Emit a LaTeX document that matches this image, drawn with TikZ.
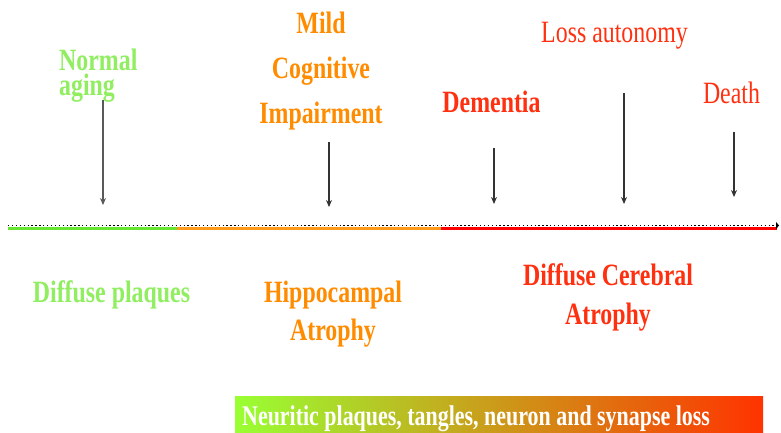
\documentclass[tikz,border=0pt]{standalone}
\usepackage{fontspec}
\setmainfont{Liberation Serif}[FakeStretch=0.77]
\usetikzlibrary{arrows.meta}
\definecolor{tgreen}{HTML}{90EE60}
\definecolor{torange}{HTML}{FF8C00}
\definecolor{tred}{HTML}{FF3010}
\definecolor{lgreen}{HTML}{66E633}
\definecolor{lorange}{HTML}{FF9A1A}
\definecolor{lred}{HTML}{FF0000}
\definecolor{bgreen}{HTML}{99FF33}
\definecolor{bmid}{HTML}{E0AA20}
\definecolor{bred}{HTML}{FF3300}
\definecolor{arrowgray}{HTML}{333333}
\begin{document}
\begin{tikzpicture}[x=1pt,y=-1pt,
  lbl/.style={inner sep=0pt, align=center, anchor=base},
  bigbold/.style={font=\bfseries\fontsize{31}{45}\selectfont},
  bigreg/.style={font=\fontsize{31}{45}\selectfont},
  ptr/.style={draw=arrowgray, line width=1.1pt, -{Stealth[length=7pt,width=6pt]}},
  seg/.style={line width=3pt}]
\useasboundingbox (0,0) rectangle (781,432);

% timeline
\coordinate (t0) at (8,228);
\coordinate (t1) at (177,228);
\coordinate (t2) at (441,228);
\coordinate (t3) at (777,228);
\coordinate (d0) at (8,225.5);
\coordinate (d1) at (779,225.5);
\draw[seg, lgreen] (t0) -- (t1);
\draw[seg, lorange] (t1) -- (t2);
\draw[seg, lred] (t2) -- (t3);
\draw[black, line width=1.6pt, dash pattern=on 1.3pt off 2.6pt, -{Triangle[length=3pt,width=7pt]}] (d0) -- (d1);

% top labels (base anchor = baseline of last line)
\node[lbl, tgreen, align=left, anchor=base west, font=\bfseries\fontsize{31}{25}\selectfont] (normal) at (59,95) {Normal\\aging};
\node[lbl, bigbold, torange] (mci) at (321,123) {Mild\\Cognitive\\Impairment};
\node[lbl, bigbold, tred] (dementia) at (491.5,112) {Dementia};
\node[lbl, bigreg, tred] (loss) at (614.5,42) {Loss autonomy};
\node[lbl, bigreg, tred] (death) at (731.5,103) {Death};

% arrows
\coordinate (a1s) at (103,100); \coordinate (a1e) at (103,205);
\coordinate (a2s) at (329,142); \coordinate (a2e) at (329,207);
\coordinate (a3s) at (494,148); \coordinate (a3e) at (494,204);
\coordinate (a4s) at (624,93);  \coordinate (a4e) at (624,204);
\coordinate (a5s) at (734,132); \coordinate (a5e) at (734,197);
\draw[ptr, draw=black!65, line width=1.5pt] (a1s) -- (a1e);
\draw[ptr] (a2s) -- (a2e);
\draw[ptr] (a3s) -- (a3e);
\draw[ptr] (a4s) -- (a4e);
\draw[ptr] (a5s) -- (a5e);

% bottom labels
\node[lbl, bigbold, tgreen] (plaques) at (111.5,302) {Diffuse plaques};
\node[lbl, torange, font=\bfseries\fontsize{31}{38}\selectfont] (hippo) at (333,340) {Hippocampal\\Atrophy};
\node[lbl, tred, font=\bfseries\fontsize{31}{39}\selectfont] (cereb) at (608,324) {Diffuse Cerebral\\Atrophy};

% banner
\node[inner sep=0pt, anchor=north west, minimum width=528pt, minimum height=36pt,
      left color=bgreen, middle color=bmid, right color=bred] (band) at (235,396) {};
\node[inner sep=0pt, anchor=base west, white, font=\bfseries\fontsize{28.5}{30}\selectfont] (bandtext) at (242,425) {Neuritic plaques, tangles, neuron and synapse loss};
\end{tikzpicture}
\end{document}
